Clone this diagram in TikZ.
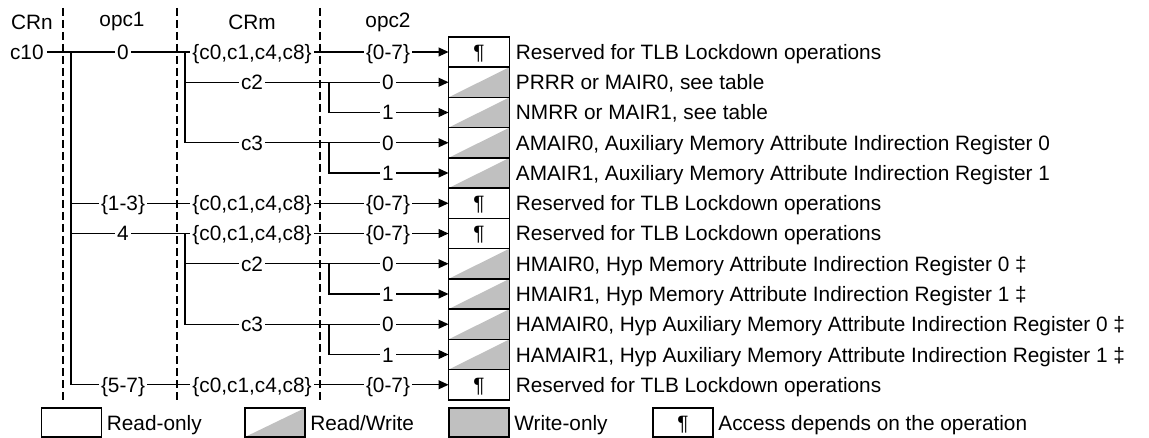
\documentclass[tikz,border=0pt]{standalone}
\usepackage{fontspec}
\setmainfont{Liberation Sans}
\usetikzlibrary{arrows.meta,positioning}
\definecolor{rwgray}{RGB}{192,192,192}
\tikzset{
  lbl/.style={fill=white,inner xsep=1pt,inner ysep=1pt,text height=7.5pt,text depth=0pt},
  desc/.style={anchor=west,inner sep=0pt,text height=7.5pt,text depth=0pt},
  regbox/.style={draw,line width=0.7pt,minimum width=30.5pt,minimum height=15.125pt,inner sep=0pt,outer sep=0pt,text height=7.5pt,text depth=0pt},
  rwbox/.style={regbox,path picture={\fill[rwgray] (path picture bounding box.south west) -- (path picture bounding box.north east) -- (path picture bounding box.south east) -- cycle;}},
  wobox/.style={regbox,fill=rwgray},
  legbox/.style={minimum width=30pt,minimum height=14.5pt},
  colsep/.style={line width=1.2pt,dash pattern=on 4pt off 2pt},
  conn/.style={line width=0.55pt},
  arr/.style={conn,-{Triangle[length=5pt,width=4.5pt]}}
}
\begin{document}
\begin{tikzpicture}[x=0.5pt,y=-0.5pt,font=\fontsize{10.4}{12}\selectfont]
    \useasboundingbox (0,0) rectangle (1149,438);
    \node (hcrn) at (32,22) {CRn};
    \node (hopc1) at (122,22) {opc1};
    \node (hcrm) at (252,22) {CRm};
    \node (hopc2) at (388,22) {opc2};
    \draw[colsep] (63,8) -- (63,400);
    \draw[colsep] (177,8) -- (177,400);
    \draw[colsep] (320,8) -- (320,400);
    \node[regbox] (b1) at (479,52) {¶};
    \node[rwbox] (b2) at (479,82.25) {};
    \node[rwbox] (b3) at (479,112.5) {};
    \node[rwbox] (b4) at (479,142.75) {};
    \node[rwbox] (b5) at (479,173) {};
    \node[regbox] (b6) at (479,203.25) {¶};
    \node[regbox] (b7) at (479,233.5) {¶};
    \node[rwbox] (b8) at (479,263.75) {};
    \node[rwbox] (b9) at (479,294) {};
    \node[rwbox] (b10) at (479,324.25) {};
    \node[rwbox] (b11) at (479,354.5) {};
    \node[regbox] (b12) at (479,384.75) {¶};
    \node[desc,right=3pt of b1] (d1) {Reserved for TLB Lockdown operations};
    \node[desc,right=3pt of b2] (d2) {PRRR or MAIR0, see table};
    \node[desc,right=3pt of b3] (d3) {NMRR or MAIR1, see table};
    \node[desc,right=3pt of b4] (d4) {AMAIR0, Auxiliary Memory Attribute Indirection Register 0};
    \node[desc,right=3pt of b5] (d5) {AMAIR1, Auxiliary Memory Attribute Indirection Register 1};
    \node[desc,right=3pt of b6] (d6) {Reserved for TLB Lockdown operations};
    \node[desc,right=3pt of b7] (d7) {Reserved for TLB Lockdown operations};
    \node[desc,right=3pt of b8] (d8) {HMAIR0, Hyp Memory Attribute Indirection Register 0 ‡};
    \node[desc,right=3pt of b9] (d9) {HMAIR1, Hyp Memory Attribute Indirection Register 1 ‡};
    \node[desc,right=3pt of b10] (d10) {HAMAIR0, Hyp Auxiliary Memory Attribute Indirection Register 0 ‡};
    \node[desc,right=3pt of b11] (d11) {HAMAIR1, Hyp Auxiliary Memory Attribute Indirection Register 1 ‡};
    \node[desc,right=3pt of b12] (d12) {Reserved for TLB Lockdown operations};
    \node[anchor=east,inner xsep=1.5pt,text height=7.5pt,text depth=0pt] (c10) at (47,52) {c10};
    \coordinate (n1) at (71,52);
    \coordinate (n6) at (71,203.25);
    \coordinate (n7) at (71,233.5);
    \coordinate (m1) at (185,52);
    \coordinate (m2) at (185,82.25);
    \coordinate (m7) at (185,233.5);
    \coordinate (m8) at (185,263.75);
    \coordinate (p2) at (329,82.25);
    \coordinate (p4) at (329,142.75);
    \coordinate (p8) at (329,263.75);
    \coordinate (p10) at (329,324.25);
    \draw[arr] (c10) -- (b1);
    \draw[arr] (n1) |- (b12);
    \draw[arr] (n6) -- (b6);
    \draw[arr] (n7) -- (b7);
    \draw[arr] (m1) |- (b4);
    \draw[arr] (m2) -- (b2);
    \draw[arr] (p2) |- (b3);
    \draw[arr] (p4) |- (b5);
    \draw[arr] (m7) |- (b10);
    \draw[arr] (m8) -- (b8);
    \draw[arr] (p8) |- (b9);
    \draw[arr] (p10) |- (b11);
    \node[lbl] (o1) at (123,52) {0};
    \node[lbl] (r1) at (252,52) {\{c0,c1,c4,c8\}};
    \node[lbl] (q1) at (388,52) {\{0-7\}};
    \node[lbl] (r2) at (252,82.25) {c2};
    \node[lbl] (q2) at (388,82.25) {0};
    \node[lbl] (q3) at (388,112.5) {1};
    \node[lbl] (r4) at (252,142.75) {c3};
    \node[lbl] (q4) at (388,142.75) {0};
    \node[lbl] (q5) at (388,173) {1};
    \node[lbl] (o6) at (123,203.25) {\{1-3\}};
    \node[lbl] (r6) at (252,203.25) {\{c0,c1,c4,c8\}};
    \node[lbl] (q6) at (388,203.25) {\{0-7\}};
    \node[lbl] (o7) at (123,233.5) {4};
    \node[lbl] (r7) at (252,233.5) {\{c0,c1,c4,c8\}};
    \node[lbl] (q7) at (388,233.5) {\{0-7\}};
    \node[lbl] (r8) at (252,263.75) {c2};
    \node[lbl] (q8) at (388,263.75) {0};
    \node[lbl] (q9) at (388,294) {1};
    \node[lbl] (r10) at (252,324.25) {c3};
    \node[lbl] (q10) at (388,324.25) {0};
    \node[lbl] (q11) at (388,354.5) {1};
    \node[lbl] (o12) at (123,384.75) {\{5-7\}};
    \node[lbl] (r12) at (252,384.75) {\{c0,c1,c4,c8\}};
    \node[lbl] (q12) at (388,384.75) {\{0-7\}};
    \node[regbox,legbox] (l1) at (71.5,422.5) {};
    \node[desc,right=2.5pt of l1] (t1) {Read-only};
    \node[rwbox,legbox] (l2) at (275,422.5) {};
    \node[desc,right=2.5pt of l2] (t2) {Read/Write};
    \node[wobox,legbox] (l3) at (479,422.5) {};
    \node[desc,right=2.5pt of l3] (t3) {Write-only};
    \node[regbox,legbox] (l4) at (683,422.5) {¶};
    \node[desc,right=2.5pt of l4] (t4) {Access depends on the operation};
\end{tikzpicture}
\end{document}
